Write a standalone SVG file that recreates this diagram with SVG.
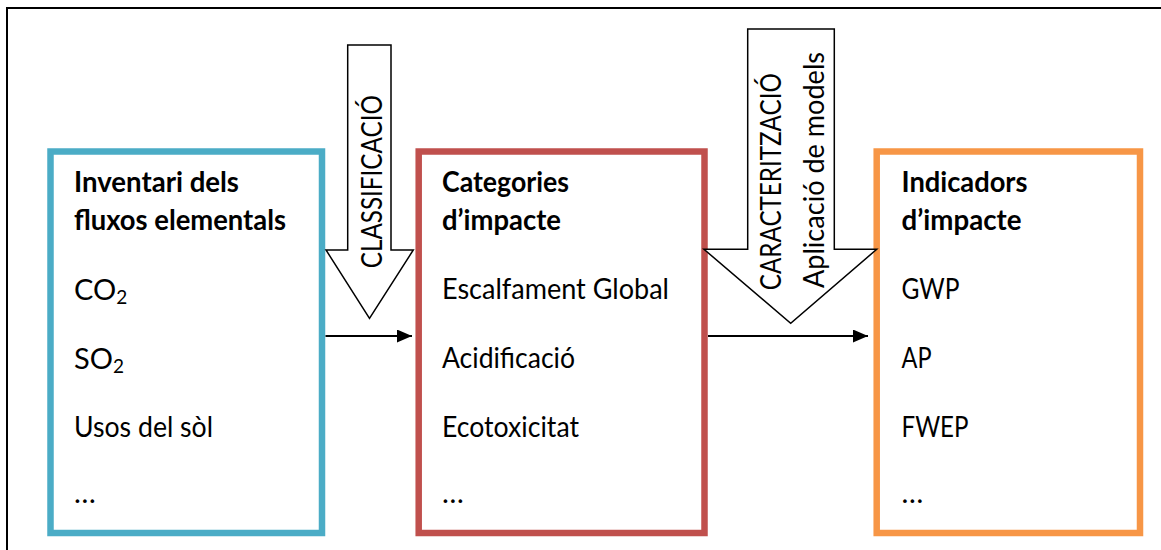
<svg xmlns="http://www.w3.org/2000/svg" width="1161" height="550" viewBox="0 0 1161 550">
  <style>
    text { font-family: Lato, "Open Sans", "Liberation Sans", sans-serif; font-size: 29px; fill: #000; }
    .title { font-weight: bold; }
    .box { fill: #fff; stroke-width: 6.5; }
    .block { fill: #fff; stroke: #000; stroke-width: 1.5; stroke-linejoin: miter; }
    .link { stroke: #000; stroke-width: 2; fill: none; }
    .sub { font-size: 19px; }
  </style>
  <defs>
    <marker id="head" viewBox="0 0 15 13" refX="15" refY="6.5" markerWidth="15" markerHeight="13" markerUnits="userSpaceOnUse" orient="auto">
      <path d="M0,0 L15,6.5 L0,13 Z" fill="#000"/>
    </marker>
  </defs>

  <!-- frame -->
  <rect x="7" y="8" width="1170" height="560" fill="#fff" stroke="#000" stroke-width="2"/>

  <!-- inventory node -->
  <g id="inventari">
    <rect class="box" x="50.5" y="151.5" width="271.5" height="381.5" stroke="#4BACC6"/>
    <text class="title" x="74" y="192" textLength="165" lengthAdjust="spacingAndGlyphs">Inventari dels</text>
    <text class="title" x="74" y="230" textLength="212" lengthAdjust="spacingAndGlyphs">fluxos elementals</text>
    <text x="74" y="300">CO<tspan class="sub" dy="4">2</tspan></text>
    <text x="74" y="369">SO<tspan class="sub" dy="4">2</tspan></text>
    <text x="74" y="436.5" textLength="139" lengthAdjust="spacingAndGlyphs">Usos del sòl</text>
    <text x="74" y="503">…</text>
  </g>

  <!-- impact categories node -->
  <g id="categories">
    <rect class="box" x="418.7" y="151.5" width="285.8" height="381.5" stroke="#C0504D"/>
    <text class="title" x="442" y="192" textLength="127" lengthAdjust="spacingAndGlyphs">Categories</text>
    <text class="title" x="442" y="230" textLength="119" lengthAdjust="spacingAndGlyphs">d’impacte</text>
    <text x="442" y="299" textLength="227" lengthAdjust="spacingAndGlyphs">Escalfament Global</text>
    <text x="442" y="368" textLength="133" lengthAdjust="spacingAndGlyphs">Acidificació</text>
    <text x="442" y="436.5" textLength="137" lengthAdjust="spacingAndGlyphs">Ecotoxicitat</text>
    <text x="442" y="503">…</text>
  </g>

  <!-- impact indicators node -->
  <g id="indicadors">
    <rect class="box" x="876.7" y="151.5" width="263.3" height="381.5" stroke="#F79646"/>
    <text class="title" x="901.5" y="192" textLength="126" lengthAdjust="spacingAndGlyphs">Indicadors</text>
    <text class="title" x="901.5" y="230" textLength="120" lengthAdjust="spacingAndGlyphs">d’impacte</text>
    <text x="901.5" y="298.5" textLength="58" lengthAdjust="spacingAndGlyphs">GWP</text>
    <text x="901.5" y="368" textLength="30" lengthAdjust="spacingAndGlyphs">AP</text>
    <text x="901.5" y="436.5" textLength="67" lengthAdjust="spacingAndGlyphs">FWEP</text>
    <text x="901.5" y="503">…</text>
  </g>

  <!-- classification step -->
  <g id="classificacio">
    <polygon class="block" points="347.7,45 391,45 391,250 413.3,250 369.5,318.3 326,250 347.7,250"/>
    <text transform="translate(381.5,181.7) rotate(-90)" text-anchor="middle" textLength="173" lengthAdjust="spacingAndGlyphs">CLASSIFICACIÓ</text>
  </g>

  <!-- characterisation step -->
  <g id="caracteritzacio">
    <polygon class="block" points="747.7,29 834.3,29 834.3,249.3 876.7,249.3 790.7,323.3 704,249.3 747.7,249.3"/>
    <text transform="translate(781,181.7) rotate(-90)" text-anchor="middle" textLength="217" lengthAdjust="spacingAndGlyphs">CARACTERITZACIÓ</text>
    <text transform="translate(824,170) rotate(-90)" text-anchor="middle" textLength="236" lengthAdjust="spacingAndGlyphs">Aplicació de models</text>
  </g>

  <!-- connectors -->
  <g id="connectors">
    <line class="link" x1="325.5" y1="336" x2="412" y2="336" marker-end="url(#head)"/>
    <line class="link" x1="708" y1="336" x2="868" y2="336" marker-end="url(#head)"/>
  </g>
</svg>
